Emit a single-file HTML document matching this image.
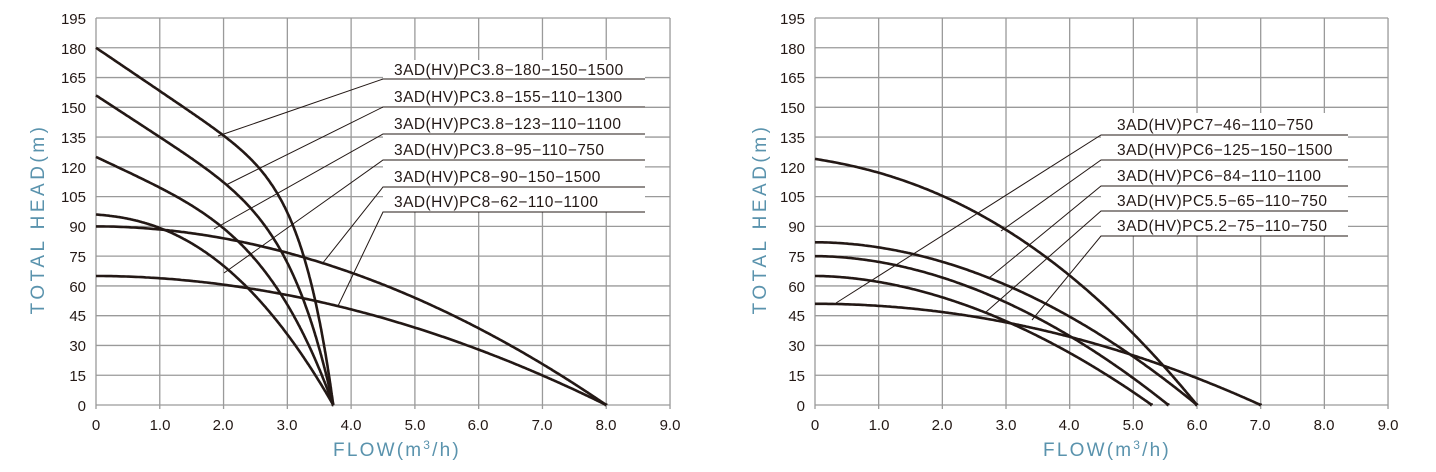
<!DOCTYPE html>
<html><head><meta charset="utf-8"><style>
html,body{margin:0;padding:0;background:#fff}
svg{display:block}
text{font-family:"Liberation Sans",sans-serif;fill:#231815}
.t{font-size:15px}
.ax{font-size:19px;fill:#5a93ad}
.lg{font-size:15.5px;letter-spacing:0.45px}
</style></head><body>
<svg id="s" width="1436" height="472" viewBox="0 0 1436 472" xmlns="http://www.w3.org/2000/svg">
<g id="grid" stroke="#9a9a9a" stroke-width="1.3" fill="none"></g>
<rect x="383" y="60" width="262" height="152" fill="#fff"/>
<rect x="1101" y="113" width="247" height="123" fill="#fff"/>
<g id="curves" stroke="#231815" stroke-width="2.6" fill="none"></g>
<g id="lead" stroke="#231815" stroke-width="1" fill="none">
<polyline points="218,136 383,79 645,79"/>
<polyline points="226,185 383,107 645,107"/>
<polyline points="214,229 383,134 645,134"/>
<polyline points="224,273 383,160 645,160"/>
<polyline points="322,264 383,187 645,187"/>
<polyline points="338,306 383,212 645,212"/>
<polyline points="836,303 1101,135 1348,135"/>
<polyline points="1001,231 1101,160 1348,160"/>
<polyline points="989,278 1101,186 1348,186"/>
<polyline points="986,312 1101,211 1348,211"/>
<polyline points="1032,320 1101,236 1348,236"/>
</g>
<g class="lg">
<text x="394" y="75">3AD(HV)PC3.8−180−150−1500</text>
<text x="394" y="102">3AD(HV)PC3.8−155−110−1300</text>
<text x="394" y="129">3AD(HV)PC3.8−123−110−1100</text>
<text x="394" y="155">3AD(HV)PC3.8−95−110−750</text>
<text x="394" y="182">3AD(HV)PC8−90−150−1500</text>
<text x="394" y="207">3AD(HV)PC8−62−110−1100</text>
<text x="1117" y="130">3AD(HV)PC7−46−110−750</text>
<text x="1117" y="155">3AD(HV)PC6−125−150−1500</text>
<text x="1117" y="181">3AD(HV)PC6−84−110−1100</text>
<text x="1117" y="206">3AD(HV)PC5.5−65−110−750</text>
<text x="1117" y="231">3AD(HV)PC5.2−75−110−750</text>
</g>
<g class="t" text-anchor="end">
<text x="86" y="24">195</text><text x="86" y="54">180</text><text x="86" y="83">165</text><text x="86" y="113">150</text><text x="86" y="143">135</text><text x="86" y="173">120</text><text x="86" y="202">105</text><text x="86" y="232">90</text><text x="86" y="262">75</text><text x="86" y="292">60</text><text x="86" y="321">45</text><text x="86" y="351">30</text><text x="86" y="381">15</text><text x="86" y="411">0</text>
<text x="805" y="24">195</text><text x="805" y="54">180</text><text x="805" y="83">165</text><text x="805" y="113">150</text><text x="805" y="143">135</text><text x="805" y="173">120</text><text x="805" y="202">105</text><text x="805" y="232">90</text><text x="805" y="262">75</text><text x="805" y="292">60</text><text x="805" y="321">45</text><text x="805" y="351">30</text><text x="805" y="381">15</text><text x="805" y="411">0</text>
</g>
<g class="t" text-anchor="middle">
<text x="96" y="430">0</text><text x="160" y="430">1.0</text><text x="223" y="430">2.0</text><text x="287" y="430">3.0</text><text x="351" y="430">4.0</text><text x="415" y="430">5.0</text><text x="478" y="430">6.0</text><text x="542" y="430">7.0</text><text x="606" y="430">8.0</text><text x="670" y="430">9.0</text>
<text x="815" y="430">0</text><text x="879" y="430">1.0</text><text x="942" y="430">2.0</text><text x="1006" y="430">3.0</text><text x="1069" y="430">4.0</text><text x="1133" y="430">5.0</text><text x="1197" y="430">6.0</text><text x="1260" y="430">7.0</text><text x="1324" y="430">8.0</text><text x="1388" y="430">9.0</text>
</g>
<text class="ax" x="397" y="456" text-anchor="middle" letter-spacing="2.2">FLOW(m<tspan font-size="12" dy="-7">3</tspan><tspan dy="7">/h)</tspan></text>
<text class="ax" x="1107" y="456" text-anchor="middle" letter-spacing="2.2">FLOW(m<tspan font-size="12" dy="-7">3</tspan><tspan dy="7">/h)</tspan></text>
<text class="ax" x="0" y="0" text-anchor="middle" letter-spacing="3.5" transform="translate(44,219) rotate(-90)">TOTAL HEAD(m)</text>
<text class="ax" x="0" y="0" text-anchor="middle" letter-spacing="3.5" transform="translate(766,219) rotate(-90)">TOTAL HEAD(m)</text>
</svg>
<script>
var NS="http://www.w3.org/2000/svg";
var g=document.getElementById("grid"),c=document.getElementById("curves");
function ln(x1,y1,x2,y2,p){var l=document.createElementNS(NS,"line");l.setAttribute("x1",x1);l.setAttribute("y1",y1);l.setAttribute("x2",x2);l.setAttribute("y2",y2);p.appendChild(l);}
var Y0=405,YS=(405-18)/195;
[[96,63.78],[815,63.67]].forEach(function(a){
 for(var i=0;i<=9;i++){var x=a[0]+i*a[1];ln(x,18,x,409,g);}
 for(var j=0;j<=13;j++){var y=Y0-j*15*YS;ln(a[0],y,a[0]+9*a[1],y,g);}
});
function addPts(pts){var p=document.createElementNS(NS,"polyline");p.setAttribute("points",pts.join(" "));c.appendChild(p);}
/* h = 1 - a r - (1-a) r^n */
function curve(ox,xs,H0,qm,a,n){var pts=[];for(var k=0;k<=400;k++){var t=k/400;var r=1-Math.pow(1-t,2);var q=qm*r;var h=H0*Math.max(0,1-a*r-(1-a)*Math.pow(r,n));pts.push((ox+q*xs).toFixed(1)+","+(Y0-h*YS).toFixed(1));}addPts(pts);}
var L=[96,63.78],R=[815,63.67];
curve(L[0],L[1],180,3.72,0.45,8);
curve(L[0],L[1],156,3.72,0.5,6);
curve(L[0],L[1],125,3.72,0.45,4);
curve(L[0],L[1],96,3.72,0.1,2.3);
curve(L[0],L[1],90,8.0,0,1.95);
curve(L[0],L[1],65,8.0,0,1.95);
curve(R[0],R[1],124,6.0,0.25,2.2);
curve(R[0],R[1],82,6.0,0,1.93);
curve(R[0],R[1],75,5.55,0,1.9);
curve(R[0],R[1],65,5.29,0,1.85);
curve(R[0],R[1],51,7.0,0,2.0);
</script>
</body></html>
